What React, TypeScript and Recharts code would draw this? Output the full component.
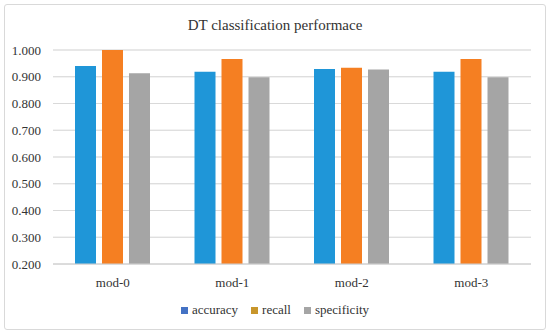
import React from 'react';
import { BarChart, Bar, XAxis, YAxis, CartesianGrid, Legend } from 'recharts';

const categories = ['mod-0', 'mod-1', 'mod-2', 'mod-3'];
const accuracy = [0.94, 0.919, 0.929, 0.919];
const recall = [1.0, 0.966, 0.934, 0.966];
const specificity = [0.913, 0.898, 0.927, 0.898];
const yTicks = [0.2, 0.3, 0.4, 0.5, 0.6, 0.7, 0.8, 0.9, 1.0];
const minorTicks = [0.2, 0.25, 0.3, 0.35, 0.4, 0.45, 0.5, 0.55, 0.6, 0.65, 0.7, 0.75, 0.8, 0.85, 0.9, 0.95, 1.0];

const data = categories.map((name, i) => ({
  name,
  accuracy: accuracy[i],
  recall: recall[i],
  specificity: specificity[i],
}));

const font = "'Liberation Serif', 'Times New Roman', serif";

const legendItems = [
  { label: 'accuracy', color: '#4472c4' },
  { label: 'recall', color: '#c8962b' },
  { label: 'specificity', color: '#a5a5a5' },
];

const renderLegend = () => (
  <div style={{ display: 'flex', justifyContent: 'center', gap: 13, fontFamily: font, fontSize: 13, color: '#333' }}>
    {legendItems.map((it) => (
      <div key={it.label} style={{ display: 'flex', alignItems: 'center', fontFamily: font }}>
        <span style={{ width: 7, height: 7, background: it.color, marginRight: 4, display: 'inline-block' }} />
        <span>{it.label}</span>
      </div>
    ))}
  </div>
);

const App = () => {
  return (
    <div style={{ position: 'absolute', left: 0, top: 0, width: 550, height: 336, background: '#fff', fontFamily: font }}>
      <div
        style={{
          position: 'absolute',
          left: 4,
          top: 4,
          width: 540,
          height: 324,
          border: '1px solid #d9d9d9',
          borderRadius: 3,
        }}
      />
      <div
        style={{
          position: 'absolute',
          top: 17,
          width: 550,
          textAlign: 'center',
          fontSize: 15,
          color: '#333',
        }}
      >
        DT classification performace
      </div>
      <div style={{ position: 'absolute', left: 0, top: 0 }}>
        <BarChart
          width={550}
          height={336}
          data={data}
          margin={{ top: 50, right: 19, left: 0, bottom: 42 }}
          barSize={21}
          barGap={6}
        >
          <CartesianGrid vertical={false} yAxisId="minor" stroke="#ebebeb" />
          <CartesianGrid vertical={false} stroke="#d9d9d9" />
          <XAxis
            dataKey="name"
            height={30}
            axisLine={{ stroke: '#d0d0d0' }}
            tickLine={false}
            tickMargin={8}
            tick={{ fontFamily: font, fontSize: 13, fill: '#333' }}
          />
          <YAxis
            yAxisId="minor"
            hide
            domain={[0.2, 1.0]}
            ticks={minorTicks}
            allowDataOverflow
          />
          <YAxis
            width={53}
            domain={[0.2, 1.0]}
            ticks={yTicks}
            allowDataOverflow
            axisLine={false}
            tickLine={false}
            tickMargin={6}
            tickFormatter={(v: number) => v.toFixed(3)}
            tick={{ fontFamily: font, fontSize: 13, fill: '#333' }}
          />
          <Legend
            layout="horizontal"
            verticalAlign="middle"
            align="center"
            content={renderLegend}
            wrapperStyle={{ top: 302, left: 0, width: 550 }}
          />
          <Bar dataKey="accuracy" fill="#1f96d8" isAnimationActive={false} />
          <Bar dataKey="recall" fill="#f57f22" isAnimationActive={false} />
          <Bar dataKey="specificity" fill="#a5a5a5" isAnimationActive={false} />
        </BarChart>
      </div>
    </div>
  );
};

export default App;
